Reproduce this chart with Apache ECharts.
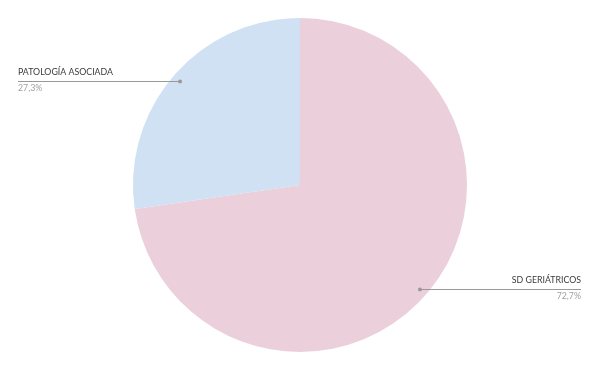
<!DOCTYPE html>
<html><head><meta charset="utf-8">
<script src="https://cdn.jsdelivr.net/npm/echarts@6/dist/echarts.min.js"></script>
<style>html,body{margin:0;padding:0;background:#fff}#c{width:599px;height:371px}</style>
</head><body><div id="c"></div>
<script>
const categories = ['SD GERIÁTRICOS', 'PATOLOGÍA ASOCIADA'];
const values = [72.7, 27.3];
const colors = ['#EBD0DB', '#CFE1F2'];

const CX = 300, CY = 185, R = 167, R2 = 158.6, EDGE = 18;
const chart = echarts.init(document.getElementById('c'), null, {renderer: 'canvas'});
const data = categories.map((n, i) => ({name: n, value: values[i], itemStyle: {color: colors[i]}}));
const ghost = data.map(d => ({name: d.name, value: d.value, itemStyle: {color: 'rgba(0,0,0,0)'}}));
const fmt = v => v.toFixed(1).replace('.', ',') + '%';
const base = {type: 'pie', center: [CX, CY], startAngle: 90, clockwise: true, silent: true};

chart.setOption({
  animation: false,
  series: [
    Object.assign({}, base, {z: 1, radius: [0, R], data: data, label: {show: false}, labelLine: {show: false}}),
    Object.assign({}, base, {
      z: 5,
      radius: [0, R2],
      data: ghost,
      label: {
        show: true,
        position: 'outside',
        formatter: p => '{n|' + p.name + '}\n{v|' + fmt(p.value) + '}',
        rich: {
          n: {fontFamily: 'Lato', fontSize: 8.8, color: '#3a3a3a', lineHeight: 16},
          v: {fontFamily: 'Lato', fontSize: 8.8, color: '#a0a0a0', lineHeight: 16}
        }
      },
      labelLine: {show: true, length: 10, length2: 10, lineStyle: {color: '#999', width: 1}},
      labelLayout: function (p) {
        const sx = p.labelLinePoints[0][0];
        const sy = Math.round(p.labelLinePoints[0][1]) + 0.5;
        const left = sx < CX;
        const ex = left ? EDGE : chart.getWidth() - EDGE;
        return {
          x: ex, y: sy - 1.5,
          align: left ? 'left' : 'right',
          verticalAlign: 'middle',
          labelLinePoints: [[sx, sy], [ex, sy], [ex, sy]]
        };
      }
    }),
    Object.assign({}, base, {
      z: 6,
      radius: [0, R2],
      data: ghost,
      label: {
        show: true, position: 'outside', formatter: '{d|}',
        rich: {d: {width: 4, height: 4, fontSize: 4, lineHeight: 4, backgroundColor: '#999', borderRadius: 2}}
      },
      labelLine: {show: true, length: 5, length2: 5, lineStyle: {opacity: 0}},
      labelLayout: function (p) {
        return {x: p.labelLinePoints[0][0], y: Math.round(p.labelLinePoints[0][1]) + 0.5,
                align: 'center', verticalAlign: 'middle'};
      }
    })
  ]
});
</script></body></html>
